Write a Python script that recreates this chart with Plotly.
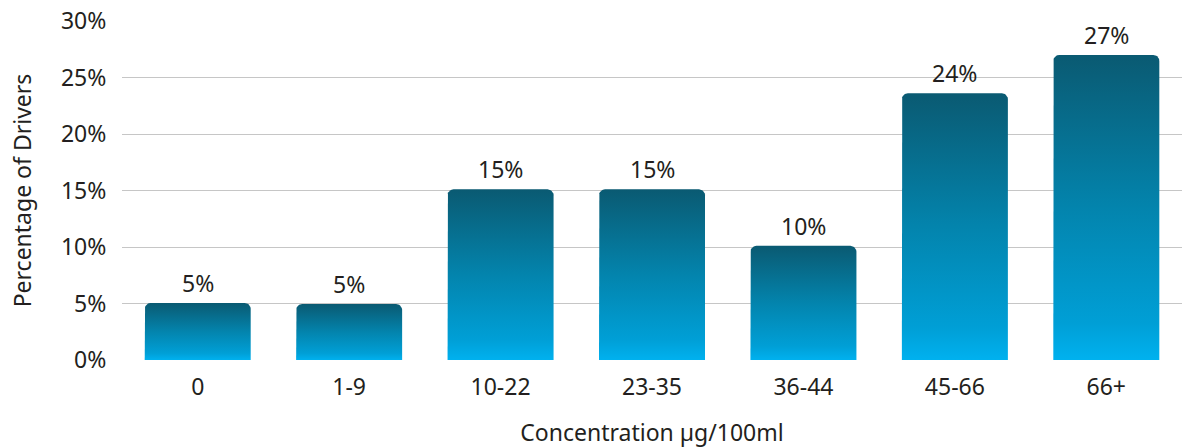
import numpy as np
import plotly.graph_objects as go

categories = ["0", "1-9", "10-22", "23-35", "36-44", "45-66", "66+"]
values = [5.05, 4.95, 15.1, 15.1, 10.1, 23.6, 27.0]
value_labels = ["5%", "5%", "15%", "15%", "10%", "24%", "27%"]
y_ticks = [0, 5, 10, 15, 20, 25, 30]
y_tick_labels = ["0%", "5%", "10%", "15%", "20%", "25%", "30%"]

W, H = 1182, 448
ML, MR, MT, MB = 122, 0, 21, 88
x_range = [-0.5, 6.5]
y_range = [0, 30]
px_x = (W - ML - MR) / (x_range[1] - x_range[0])
px_y = (H - MT - MB) / (y_range[1] - y_range[0])

bar_half = 0.35
r_px = 6
rx = r_px / px_x
ry = r_px / px_y

colorscale = [[0.0, "#00b1ef"], [0.12, "#009fd6"], [0.5, "#0384ad"], [1.0, "#0a5a72"]]

fig = go.Figure()
font_family = "Noto Sans, Open Sans, sans-serif"
text_color = "#231f20"

for i, v in enumerate(values):
    xl, xr = i - bar_half, i + bar_half
    t = np.linspace(0, np.pi / 2, 10)
    arc_l_x = (xl + rx) - rx * np.cos(t)
    arc_l_y = (v - ry) + ry * np.sin(t)
    arc_r_x = (xr - rx) + rx * np.sin(t)
    arc_r_y = (v - ry) + ry * np.cos(t)
    xs = [xl] + list(arc_l_x) + list(arc_r_x) + [xr, xl]
    ys = [0] + list(arc_l_y) + list(arc_r_y) + [0, 0]
    fig.add_trace(go.Scatter(
        x=xs, y=ys, mode="lines", fill="toself",
        line=dict(width=0, color="rgba(0,0,0,0)"),
        fillgradient=dict(type="vertical", colorscale=colorscale, start=0, stop=v),
        hoverinfo="skip", showlegend=False,
    ))

for i, (v, lab) in enumerate(zip(values, value_labels)):
    fig.add_annotation(
        x=i, y=v, text=lab, showarrow=False, yanchor="bottom", yshift=2,
        font=dict(size=23, color=text_color, family=font_family),
    )

fig.update_layout(
    width=W, height=H,
    margin=dict(l=ML, r=MR, t=MT, b=MB),
    plot_bgcolor="white", paper_bgcolor="white",
    font=dict(family=font_family, color=text_color),
    xaxis=dict(
        range=x_range, tickmode="array",
        tickvals=list(range(len(categories))), ticktext=categories,
        showgrid=False, zeroline=False, showline=False,
        tickfont=dict(size=23, color=text_color),
        ticks="outside", ticklen=6, tickcolor="rgba(0,0,0,0)",
        title=dict(text="Concentration µg/100ml", font=dict(size=23, color=text_color), standoff=24),
    ),
    yaxis=dict(
        range=y_range, tickmode="array", tickvals=y_ticks, ticktext=y_tick_labels,
        showgrid=True, gridcolor="#c6c6c6", gridwidth=1.3,
        zeroline=False, showline=False,
        tickfont=dict(size=23, color=text_color),
        ticks="outside", ticklen=10, tickcolor="rgba(0,0,0,0)",
        title=dict(text="Percentage of Drivers", font=dict(size=23, color=text_color), standoff=22),
    ),
)

fig.write_html("out.html", config={"displayModeBar": False},
               post_script="document.body.style.margin='0';")
